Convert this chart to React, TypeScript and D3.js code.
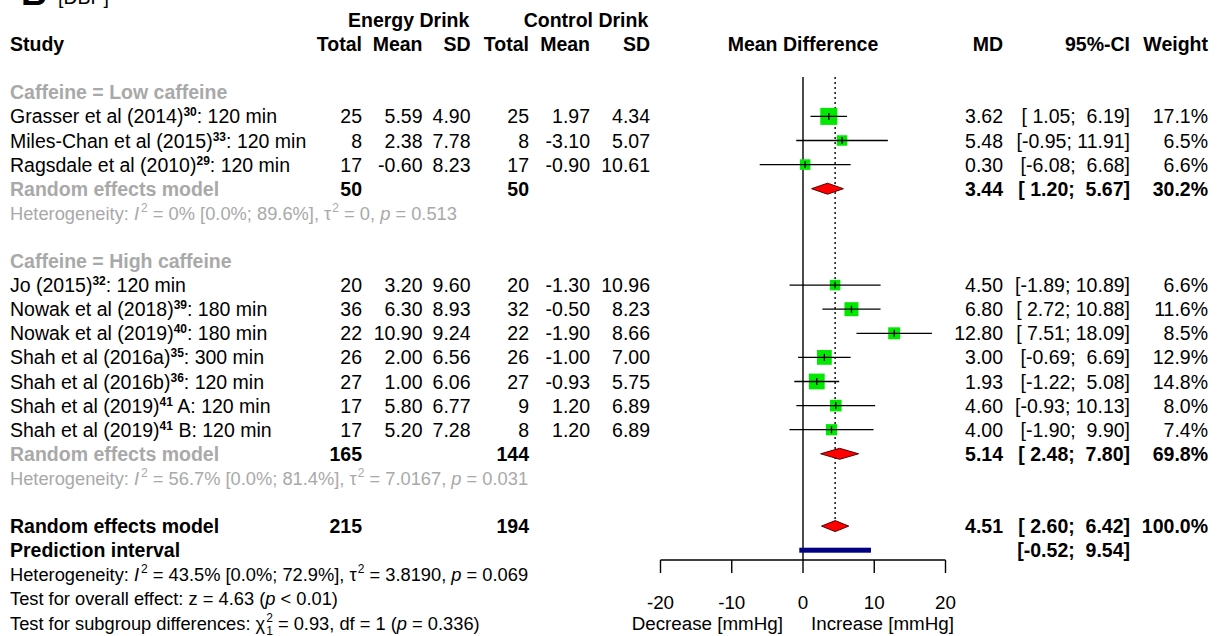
import React from "react";
import * as d3 from "d3";

// study rows
const studyName = [
  "Grasser et al (2014)", "Miles-Chan et al (2015)", "Ragsdale et al (2010)",
  "Jo (2015)", "Nowak et al (2018)", "Nowak et al (2019)", "Shah et al (2016a)",
  "Shah et al (2016b)", "Shah et al (2019)", "Shah et al (2019)",
];
const studyRef = ["30", "33", "29", "32", "39", "40", "35", "36", "41", "41"];
const studySuffix = [
  ": 120 min", ": 120 min", ": 120 min", ": 120 min", ": 180 min", ": 180 min",
  ": 300 min", ": 120 min", " A: 120 min", " B: 120 min",
];
const studyGroup = [0, 0, 0, 1, 1, 1, 1, 1, 1, 1];
const eTotal = [25, 8, 17, 20, 36, 22, 26, 27, 17, 17];
const eMean = [5.59, 2.38, -0.6, 3.2, 6.3, 10.9, 2.0, 1.0, 5.8, 5.2];
const eSD = [4.9, 7.78, 8.23, 9.6, 8.93, 9.24, 6.56, 6.06, 6.77, 7.28];
const cTotal = [25, 8, 17, 20, 32, 22, 26, 27, 9, 8];
const cMean = [1.97, -3.1, -0.9, -1.3, -0.5, -1.9, -1.0, -0.93, 1.2, 1.2];
const cSD = [4.34, 5.07, 10.61, 10.96, 8.23, 8.66, 7.0, 5.75, 6.89, 6.89];
const md = [3.62, 5.48, 0.3, 4.5, 6.8, 12.8, 3.0, 1.93, 4.6, 4.0];
const ciLow = [1.05, -0.95, -6.08, -1.89, 2.72, 7.51, -0.69, -1.22, -0.93, -1.9];
const ciHigh = [6.19, 11.91, 6.68, 10.89, 10.88, 18.09, 6.69, 5.08, 10.13, 9.9];
const weight = [17.1, 6.5, 6.6, 6.6, 11.6, 8.5, 12.9, 14.8, 8.0, 7.4];

// subgroups
const groupLabel = ["Caffeine = Low caffeine", "Caffeine = High caffeine"];
const groupETotal = [50, 165];
const groupCTotal = [50, 144];
const groupMD = [3.44, 5.14];
const groupLow = [1.2, 2.48];
const groupHigh = [5.67, 7.8];
const groupWeight = [30.2, 69.8];

// overall
const overallETotal = 215;
const overallCTotal = 194;
const overallMD = 4.51;
const overallLow = 2.6;
const overallHigh = 6.42;
const predLow = -0.52;
const predHigh = 9.54;

// heterogeneity: low, high, overall
const hetI2 = ["0%", "56.7%", "43.5%"];
const hetI2CI = ["[0.0%; 89.6%]", "[0.0%; 81.4%]", "[0.0%; 72.9%]"];
const hetTau2 = ["0", "7.0167", "3.8190"];
const hetP = ["0.513", "0.031", "0.069"];

const axisTicks = [-20, -10, 0, 10, 20];

const FONT = "'Liberation Sans', Arial, Helvetica, sans-serif";
const FS = 19.5;
const FS_HET = 18.3;
const GRAY = "#a9a9a9";

const rowY = (k: number) => 20 + 24.1 * k;
const base = (k: number) => rowY(k) + 7;

const f2 = (v: number) => v.toFixed(2);
const pad = (v: number) => f2(v).padStart(5, " ");
const ci = (lo: number, hi: number) => `[${pad(lo)}; ${pad(hi)}]`;

const colX = {
  eTotal: 362, eMean: 422.5, eSD: 470.5,
  cTotal: 529, cMean: 590, cSD: 650,
  md: 1003, ci: 1130, w: 1208,
};

const Het = ({ k, i, color }: { k: number; i: number; color: string }) => (
  <text x={10} y={base(k)} fontSize={FS_HET} fill={color} style={{ whiteSpace: "pre" }}>
    {"Heterogeneity: "}
    <tspan fontStyle="italic">I</tspan>
    <tspan dx={2} dy={-8} fontSize={12}>2</tspan>
    <tspan dy={8}>{` = ${hetI2[i]} ${hetI2CI[i]}, \u03c4`}</tspan>
    <tspan dx={1} dy={-8} fontSize={12}>2</tspan>
    <tspan dy={8}>{` = ${hetTau2[i]}, `}</tspan>
    <tspan fontStyle="italic">p</tspan>
    {` = ${hetP[i]}`}
  </text>
);

const Diamond = ({ x, k, mdv, lo, hi }: any) => {
  const y = rowY(k);
  const h = 5.5;
  return (
    <polygon
      points={`${x(lo)},${y} ${x(mdv)},${y - h} ${x(hi)},${y} ${x(mdv)},${y + h}`}
      fill="#ff0000" stroke="#5a0000" strokeWidth={1}
    />
  );
};

export default function App() {
  const x = d3.scaleLinear([-20, 20], [660.5, 945.5]);
  const size = d3.scaleSqrt([0, 17.1], [0, 17]);

  const studyRow = studyName.map((_, i) => {
    const g = studyGroup[i];
    const idx = studyGroup.slice(0, i).filter((v) => v === g).length;
    return 3 + 7 * g + 1 + idx;
  });
  const groupCount = groupLabel.map((_, g) => studyGroup.filter((v) => v === g).length);
  const groupRow = groupLabel.map((_, g) => 3 + 7 * g);
  const poolRow = groupRow.map((r, g) => r + 1 + groupCount[g]);

  const axisY = 560;

  return (
    <svg width={1219} height={636} style={{ position: "absolute", left: 0, top: 0, background: "#fff" }}
      fontFamily={FONT}>
      {/* panel letter */}
      <text x={21} y={5} fontSize={36} fontWeight="bold">B</text>
      <text x={58} y={4} fontSize={FS}>[DBP]</text>

      {/* headers */}
      <g fontWeight="bold" fontSize={FS}>
        <text x={408.7} y={base(0)} textAnchor="middle">Energy Drink</text>
        <text x={586} y={base(0)} textAnchor="middle">Control Drink</text>
        <text x={10} y={base(1)}>Study</text>
        <text x={colX.eTotal} y={base(1)} textAnchor="end">Total</text>
        <text x={colX.eMean} y={base(1)} textAnchor="end">Mean</text>
        <text x={colX.eSD} y={base(1)} textAnchor="end">SD</text>
        <text x={colX.cTotal} y={base(1)} textAnchor="end">Total</text>
        <text x={colX.cMean} y={base(1)} textAnchor="end">Mean</text>
        <text x={colX.cSD} y={base(1)} textAnchor="end">SD</text>
        <text x={x(0)} y={base(1)} textAnchor="middle">Mean Difference</text>
        <text x={colX.md} y={base(1)} textAnchor="end">MD</text>
        <text x={colX.ci} y={base(1)} textAnchor="end">95%-CI</text>
        <text x={colX.w} y={base(1)} textAnchor="end">Weight</text>
      </g>

      {/* reference lines */}
      <line x1={x(0)} x2={x(0)} y1={77} y2={axisY} stroke="#000" strokeWidth={1.4} />
      <line x1={x(overallMD)} x2={x(overallMD)} y1={77} y2={rowY(21) - 5} stroke="#000"
        strokeWidth={1.4} strokeDasharray="2,3" />

      {/* subgroup headings, pooled rows */}
      {groupLabel.map((lab, g) => (
        <g key={lab}>
          <text x={10} y={base(groupRow[g])} fontSize={FS} fontWeight="bold" fill={GRAY}>{lab}</text>
          <text x={10} y={base(poolRow[g])} fontSize={FS} fontWeight="bold" fill={GRAY}>Random effects model</text>
          <g fontSize={FS} fontWeight="bold" textAnchor="end" style={{ whiteSpace: "pre" }}>
            <text x={colX.eTotal} y={base(poolRow[g])}>{groupETotal[g]}</text>
            <text x={colX.cTotal} y={base(poolRow[g])}>{groupCTotal[g]}</text>
            <text x={colX.md} y={base(poolRow[g])}>{f2(groupMD[g])}</text>
            <text x={colX.ci} y={base(poolRow[g])} xmlSpace="preserve">{ci(groupLow[g], groupHigh[g])}</text>
            <text x={colX.w} y={base(poolRow[g])}>{groupWeight[g].toFixed(1) + "%"}</text>
          </g>
          <Diamond x={x} k={poolRow[g]} mdv={groupMD[g]} lo={groupLow[g]} hi={groupHigh[g]} />
          <Het k={poolRow[g] + 1} i={g} color={GRAY} />
        </g>
      ))}

      {/* studies */}
      {studyName.map((name, i) => {
        const k = studyRow[i];
        const y = rowY(k);
        const s = size(weight[i]);
        return (
          <g key={i}>
            <text x={10} y={base(k)} fontSize={FS}>
              {name}
              <tspan dy={-7} fontSize={12} fontWeight="bold">{studyRef[i]}</tspan>
              <tspan dy={7} style={{ whiteSpace: "pre" }}>{studySuffix[i]}</tspan>
            </text>
            <g fontSize={FS} textAnchor="end" style={{ whiteSpace: "pre" }}>
              <text x={colX.eTotal} y={base(k)}>{eTotal[i]}</text>
              <text x={colX.eMean} y={base(k)}>{f2(eMean[i])}</text>
              <text x={colX.eSD} y={base(k)}>{f2(eSD[i])}</text>
              <text x={colX.cTotal} y={base(k)}>{cTotal[i]}</text>
              <text x={colX.cMean} y={base(k)}>{f2(cMean[i])}</text>
              <text x={colX.cSD} y={base(k)}>{f2(cSD[i])}</text>
              <text x={colX.md} y={base(k)}>{f2(md[i])}</text>
              <text x={colX.ci} y={base(k)} xmlSpace="preserve">{ci(ciLow[i], ciHigh[i])}</text>
              <text x={colX.w} y={base(k)}>{weight[i].toFixed(1) + "%"}</text>
            </g>
            <rect x={x(md[i]) - s / 2} y={y - s / 2} width={s} height={s} fill="#00e800" />
            <line x1={x(ciLow[i])} x2={x(ciHigh[i])} y1={y} y2={y} stroke="#000" strokeWidth={1.3} />
            <line x1={x(md[i])} x2={x(md[i])} y1={y - 3.5} y2={y + 3.5} stroke="#000" strokeWidth={1.3} />
          </g>
        );
      })}

      {/* overall */}
      <g fontSize={FS} fontWeight="bold" style={{ whiteSpace: "pre" }}>
        <text x={10} y={base(21)}>Random effects model</text>
        <text x={10} y={base(22)}>Prediction interval</text>
        <text x={colX.eTotal} y={base(21)} textAnchor="end">{overallETotal}</text>
        <text x={colX.cTotal} y={base(21)} textAnchor="end">{overallCTotal}</text>
        <text x={colX.md} y={base(21)} textAnchor="end">{f2(overallMD)}</text>
        <text x={colX.ci} y={base(21)} textAnchor="end" xmlSpace="preserve">{ci(overallLow, overallHigh)}</text>
        <text x={colX.w} y={base(21)} textAnchor="end">100.0%</text>
        <text x={colX.ci} y={base(22)} textAnchor="end" xmlSpace="preserve">{ci(predLow, predHigh)}</text>
      </g>
      <Diamond x={x} k={21} mdv={overallMD} lo={overallLow} hi={overallHigh} />
      <rect x={x(predLow)} y={rowY(22) - 2.5} width={x(predHigh) - x(predLow)} height={5} fill="#000080" />

      <Het k={23} i={2} color="#000" />
      <text x={10} y={base(24)} fontSize={FS_HET} style={{ whiteSpace: "pre" }}>
        {"Test for overall effect: z = 4.63 ("}
        <tspan fontStyle="italic">p</tspan>
        {" < 0.01)"}
      </text>
      <text x={10} y={base(25)} fontSize={FS_HET} style={{ whiteSpace: "pre" }}>
        {"Test for subgroup differences: \u03c7"}
        <tspan dx={1} dy={-8} fontSize={12}>2</tspan>
        <tspan dx={-6.7} dy={13} fontSize={12}>1</tspan>
        <tspan dy={-5}>{" = 0.93, df = 1 ("}</tspan>
        <tspan fontStyle="italic">p</tspan>
        {" = 0.336)"}
      </text>

      {/* axis */}
      <line x1={x(-20)} x2={x(20)} y1={axisY} y2={axisY} stroke="#000" strokeWidth={1.4} />
      {axisTicks.map((t) => (
        <g key={t}>
          <line x1={x(t)} x2={x(t)} y1={axisY} y2={axisY + 13} stroke="#000" strokeWidth={1.4} />
          <text x={x(t)} y={608.7} fontSize={18.8} textAnchor="middle">{t}</text>
        </g>
      ))}
      <text x={x(0) - 20} y={629.5} fontSize={18.8} textAnchor="end">Decrease [mmHg]</text>
      <text x={x(0) + 8} y={629.5} fontSize={18.8}>Increase [mmHg]</text>
    </svg>
  );
}
